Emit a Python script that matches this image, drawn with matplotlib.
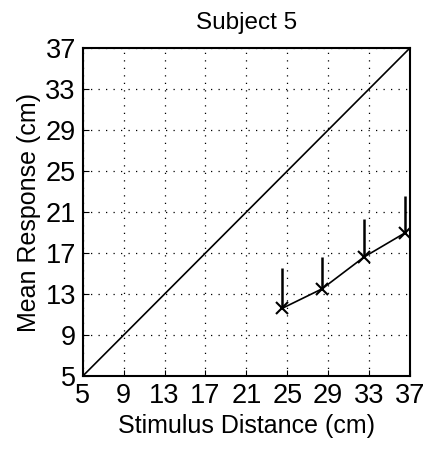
import matplotlib
matplotlib.use('Agg')
import matplotlib.pyplot as plt

plt.rcParams['font.family'] = ['Liberation Sans', 'DejaVu Sans']

ticks = [5, 9, 13, 17, 21, 25, 29, 33, 37]
stim = [24.5, 28.4, 32.5, 36.5]
resp = [11.6, 13.5, 16.6, 18.95]
err_up = [3.9, 3.1, 3.7, 3.6]

fig = plt.figure(figsize=(4.27, 4.53), dpi=100)
ax = fig.add_axes([0.194, 0.170, 0.766, 0.724])

ax.plot([5, 37], [5, 37], color='black', lw=1.2)
ax.errorbar(stim, resp, yerr=[[0] * len(err_up), err_up], color='black', lw=1.2,
            marker='x', ms=9, mew=1.5, elinewidth=1.8, capsize=0)

ax.set_xlim(5, 37)
ax.set_ylim(5, 37)
ax.set_xticks(ticks)
ax.set_yticks(ticks)
ax.grid(True, color='black', linestyle=(0, (1, 5)), lw=0.9)
ax.tick_params(direction='in', labelsize=19.5, length=4, pad=5)
for s in ax.spines.values():
    s.set_linewidth(1.5)

ax.set_xlabel('Stimulus Distance (cm)', fontsize=18, labelpad=4)
ax.set_ylabel('Mean Response (cm)', fontsize=18, labelpad=3)
ax.set_title('Subject 5', fontsize=17.5, pad=14)

fig.savefig('out.png', dpi=100)
